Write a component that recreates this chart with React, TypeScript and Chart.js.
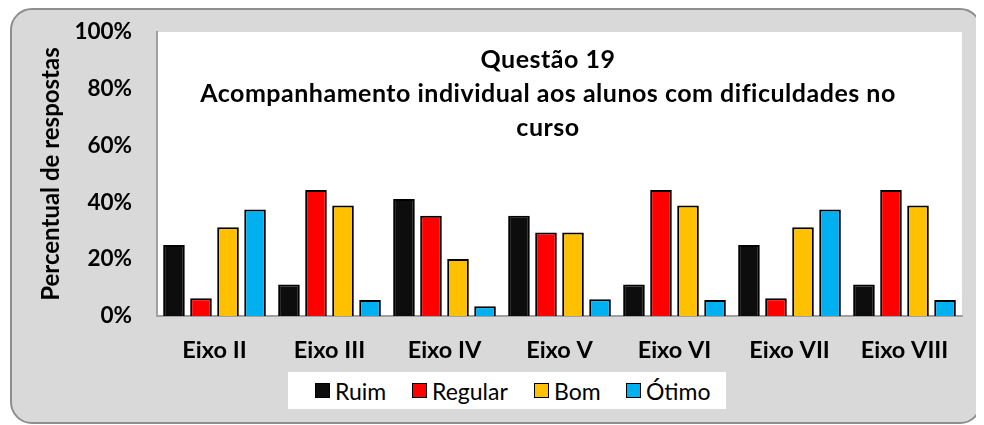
import React, { useEffect, useRef } from "react";
import { Chart, registerables } from "chart.js";

Chart.register(...registerables);

const categories = ["Eixo II", "Eixo III", "Eixo IV", "Eixo V", "Eixo VI", "Eixo VII", "Eixo VIII"];
const ruim = [25, 11.1, 41.2, 35.3, 11.1, 25, 11.1];
const regular = [6.25, 44.4, 35.3, 29.4, 44.4, 6.25, 44.4];
const bom = [31.25, 38.9, 20.1, 29.4, 38.9, 31.25, 38.9];
const otimo = [37.5, 5.6, 3.4, 5.9, 5.6, 37.5, 5.6];
const seriesNames = ["Ruim", "Regular", "Bom", "Ótimo"];
const seriesColors = ["#0d0d0d", "#ff0000", "#ffc000", "#00b0f0"];
const yTicks = [0, 20, 40, 60, 80, 100];
const titleLines = ["Questão 19", "Acompanhamento individual aos alunos com dificuldades no", "curso"];
const yTitle = "Percentual de respostas";

const FONT = "Lato, 'Open Sans', sans-serif";

export default function App() {
  const canvasRef = useRef<HTMLCanvasElement | null>(null);

  useEffect(() => {
    const canvas = canvasRef.current;
    if (!canvas) return;
    const values = [ruim, regular, bom, otimo];
    const chart = new Chart(canvas, {
      type: "bar",
      data: {
        labels: categories,
        datasets: seriesNames.map((name, i) => ({
          label: name,
          data: values[i],
          backgroundColor: seriesColors[i],
          borderColor: "#000000",
          borderWidth: 2,
          borderSkipped: "bottom" as const,
          categoryPercentage: 0.94,
          barPercentage: 0.8,
        })),
      },
      options: {
        animation: false,
        responsive: false,
        maintainAspectRatio: false,
        layout: { padding: { left: 0, top: 24, right: 20, bottom: 50 } },
        plugins: {
          legend: { display: false },
          title: { display: false },
          tooltip: { enabled: false },
        },
        scales: {
          x: {
            grid: { display: false, drawTicks: false },
            border: { display: true, color: "#a0a0a0", width: 2 },
            ticks: {
              color: "#000000",
              padding: 20,
              font: { family: FONT, size: 23.5, weight: "bold" },
            },
            afterFit: (scale: any) => {
              scale.height = 58;
            },
          },
          y: {
            min: 0,
            max: 100,
            afterBuildTicks: (scale: any) => {
              scale.ticks = yTicks.map((v) => ({ value: v }));
            },
            grid: { display: false, drawTicks: false },
            border: { display: true, color: "#a0a0a0", width: 2 },
            ticks: {
              color: "#000000",
              padding: 25,
              font: { family: FONT, size: 22.5, weight: "bold" },
              callback: (v: any) => v + "%",
            },
            title: {
              display: true,
              text: yTitle,
              color: "#000000",
              padding: { top: 27, bottom: 0 },
              font: { family: FONT, size: 24, weight: "bold" },
            },
            afterFit: (scale: any) => {
              scale.width = 147;
              scale.paddingTop = 0;
              scale.paddingBottom = 0;
            },
          },
        },
      },
      plugins: [
        {
          id: "plotBg",
          beforeDraw: (c: any) => {
            const { ctx, chartArea } = c;
            ctx.save();
            ctx.fillStyle = "#ffffff";
            ctx.fillRect(chartArea.left, chartArea.top, chartArea.right - chartArea.left, chartArea.bottom - chartArea.top);
            ctx.restore();
          },
        },
      ],
    });
    return () => chart.destroy();
  }, []);

  const legendX = [27, 124, 246, 338];

  return (
    <div style={{ position: "relative", marginLeft: 2, width: 972, height: 416 }}>
      <div
        style={{
          position: "absolute",
          inset: 0,
          background: "#d9d9d9",
          border: "2px solid #8e8e8e",
          borderRadius: 22,
          boxSizing: "border-box",
        }}
      />
      <canvas ref={canvasRef} width={972} height={416} style={{ position: "absolute", left: 0, top: 0 }} />
      <div
        style={{
          position: "absolute",
          left: 38,
          top: 33,
          width: 1000,
          textAlign: "center",
          fontFamily: FONT,
          fontWeight: "bold",
          fontSize: 25,
          letterSpacing: "0.5px",
          lineHeight: "34px",
          color: "#000",
          whiteSpace: "nowrap",
        }}
      >
        {titleLines.map((t) => (
          <div key={t}>{t}</div>
        ))}
      </div>
      <div
        style={{
          position: "absolute",
          left: 278,
          top: 364,
          width: 438,
          height: 37,
          background: "#ffffff",
          fontFamily: FONT,
          fontSize: 23,
          color: "#000",
        }}
      >
        {seriesNames.map((name, i) => (
          <div
            key={name}
            style={{ position: "absolute", left: legendX[i], top: 0, height: 37, display: "flex", alignItems: "center" }}
          >
            <span
              style={{
                display: "inline-block",
                width: 15,
                height: 15,
                boxSizing: "border-box",
                background: seriesColors[i],
                border: "1.5px solid #000",
                marginRight: 5,
              }}
            />
            <span>{name}</span>
          </div>
        ))}
      </div>
    </div>
  );
}
